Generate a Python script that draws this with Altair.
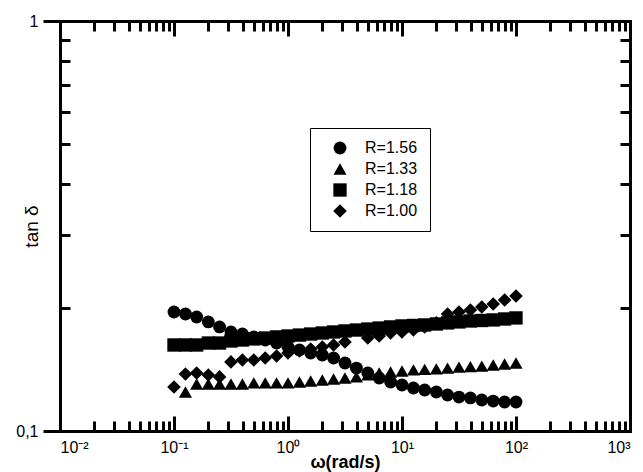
import altair as alt
import pandas as pd

# Angular frequency (rad/s), ten points per decade
omega = [0.1, 0.126, 0.158, 0.2, 0.251, 0.316, 0.398, 0.501, 0.631, 0.794,
         1.0, 1.26, 1.58, 2.0, 2.51, 3.16, 3.98, 5.01, 6.31, 7.94,
         10.0, 12.6, 15.8, 20.0, 25.1, 31.6, 39.8, 50.1, 63.1, 79.4, 100.0]

# Loss tangent for each blend ratio R
tan_r156 = [0.1951, 0.1929, 0.1897, 0.1845, 0.1794, 0.1744, 0.1724, 0.1696, 0.1667, 0.1639,
            0.1603, 0.1576, 0.155, 0.1532, 0.1507, 0.1465, 0.1424, 0.1385, 0.1347, 0.1317,
            0.1295, 0.1273, 0.1259, 0.1245, 0.1224, 0.121, 0.1204, 0.119, 0.1183, 0.1177, 0.1177]

omega_r133 = omega[1:]
tan_r133 = [0.1245, 0.1302, 0.1302, 0.1302, 0.1302, 0.1302, 0.131, 0.131, 0.131, 0.131,
            0.1317, 0.1324, 0.1332, 0.1339, 0.1347, 0.1355, 0.137, 0.1385, 0.1393, 0.1401,
            0.1409, 0.1413, 0.1417, 0.1424, 0.1432, 0.1436, 0.144, 0.1449, 0.1457, 0.1465]

tan_r118 = [0.1621, 0.1621, 0.1621, 0.1639, 0.1639, 0.1658, 0.1667, 0.1677, 0.1686, 0.1696,
            0.1705, 0.1714, 0.1724, 0.1734, 0.1744, 0.1754, 0.1763, 0.1773, 0.1783, 0.1794,
            0.1804, 0.1809, 0.1814, 0.1824, 0.1835, 0.1845, 0.1855, 0.186, 0.1866, 0.1876, 0.1887]

omega_r100 = omega[:16] + omega[17:]
tan_r100 = [0.128, 0.1377, 0.1385, 0.137, 0.1355, 0.1474, 0.149, 0.149, 0.1507, 0.1524,
            0.155, 0.1567, 0.1585, 0.1603, 0.1621, 0.1648, 0.1686, 0.1705, 0.1734, 0.1744,
            0.1763, 0.1794, 0.1835, 0.1929, 0.1951, 0.1973, 0.2006, 0.204, 0.2087, 0.2134]

series_names = ["R=1.56", "R=1.33", "R=1.18", "R=1.00"]
series_shapes = ["circle", "triangle-up", "square", "diamond"]
series_sizes = [165, 185, 165, 200]

# Axis ticks and labels
decades = [0.01, 0.1, 1, 10, 100, 1000]
decade_labels = ["10⁻²", "10⁻¹", "10⁰", "10¹", "10²", "10³"]
minor_mult = [2, 3, 4, 5, 6, 7, 8, 9]
x_minor = [m * d for d in decades[:-1] for m in minor_mult]
y_ends = [0.1, 1]
y_end_labels = ["0,1", "1"]
y_minor = [0.2, 0.3, 0.4, 0.5, 0.6, 0.7, 0.8, 0.9]

rows = []
for name, xs, ys in zip(series_names,
                        [omega, omega_r133, omega, omega_r100],
                        [tan_r156, tan_r133, tan_r118, tan_r100]):
    for xv, yv in zip(xs, ys):
        rows.append({"omega": xv, "tan_delta": yv, "series": name})
df = pd.DataFrame(rows)

W, H = 570, 410
FONT = "Liberation Sans"
x_scale = alt.Scale(type="log", domain=[0.01, 1000], nice=False)
y_scale = alt.Scale(type="log", domain=[0.1, 1], nice=False)

x_label_expr = ""
for v, lab in zip(decades[:-1], decade_labels[:-1]):
    x_label_expr += f"datum.value < {v * 3} ? '{lab}' : "
x_label_expr += f"'{decade_labels[-1]}'"
y_label_expr = f"datum.value < 0.3 ? '{y_end_labels[0]}' : '{y_end_labels[1]}'"

frame = dict(domainColor="black", domainWidth=3, domainCap="square",
             tickColor="black", tickWidth=3, grid=False)

bottom_axis = alt.Axis(orient="bottom", values=decades, labelExpr=x_label_expr,
                       ticks=False, tickSize=0, labelPadding=8,
                       labelFont=FONT, labelFontSize=16, labelColor="black",
                       title="ω(rad/s)", titleFont=FONT, titleFontSize=18,
                       titleFontWeight="bold", titleColor="black",
                       titleX=W / 2, titleY=31, titleBaseline="middle", **frame)
left_axis = alt.Axis(orient="left", values=y_ends, labelExpr=y_label_expr,
                     tickSize=17, labelPadding=5,
                     labelFont=FONT, labelFontSize=16, labelColor="black",
                     title="tan δ", titleFont=FONT, titleFontSize=19,
                     titleFontWeight="normal", titleColor="black",
                     titleX=-29, titleY=H / 2, titleBaseline="middle",
                     titleAlign="center", **frame)

legend = alt.Legend(title=None, orient="none", legendX=250, legendY=107,
                    fillColor="white", strokeColor="black",
                    padding=12, rowPadding=5,
                    symbolFillColor="black", symbolStrokeColor="black",
                    symbolStrokeWidth=0, symbolOffset=10, labelOffset=17,
                    labelFont=FONT, labelFontSize=16, labelColor="black")

points = alt.Chart(df).mark_point(filled=True, opacity=1,
                                  color="black", strokeWidth=0).encode(
    x=alt.X("omega:Q", scale=x_scale, axis=bottom_axis),
    y=alt.Y("tan_delta:Q", scale=y_scale, axis=left_axis),
    shape=alt.Shape("series:N",
                    scale=alt.Scale(domain=series_names, range=series_shapes),
                    legend=legend),
    size=alt.Size("series:N",
                  scale=alt.Scale(domain=series_names, range=series_sizes),
                  legend=legend),
)


def tick_axis(orient, offset, values, size, domain=False):
    return alt.Axis(orient=orient, offset=offset, values=values, tickSize=size,
                    labels=False, domain=domain, title=None, **frame)


def tick_layer(x_axis, y_axis):
    return alt.Chart(df).mark_point(opacity=0).encode(
        x=alt.X("omega:Q", scale=x_scale, axis=x_axis),
        y=alt.Y("tan_delta:Q", scale=y_scale, axis=y_axis),
    )


# inward ticks on all four sides, plus the top and right frame lines
ticks_a = tick_layer(tick_axis("top", -H, decades, 15), tick_axis("right", -W, y_minor, 10))
ticks_b = tick_layer(tick_axis("top", -H, x_minor, 10), tick_axis("left", -W, y_minor, 10, True))
ticks_c = tick_layer(tick_axis("bottom", -H, decades, 15, True), None)
ticks_d = tick_layer(tick_axis("bottom", -H, x_minor, 10), None)

chart = alt.layer(points, ticks_a, ticks_b, ticks_c, ticks_d).resolve_axis(
    x="independent", y="independent"
).properties(
    width=W, height=H,
    autosize=alt.AutoSizeParams(type="none"),
    padding={"left": 60, "top": 21, "right": 13, "bottom": 41},
    background="white",
).configure_view(strokeWidth=0)

chart.save("out.html", embed_options={"renderer": "svg", "actions": False})
